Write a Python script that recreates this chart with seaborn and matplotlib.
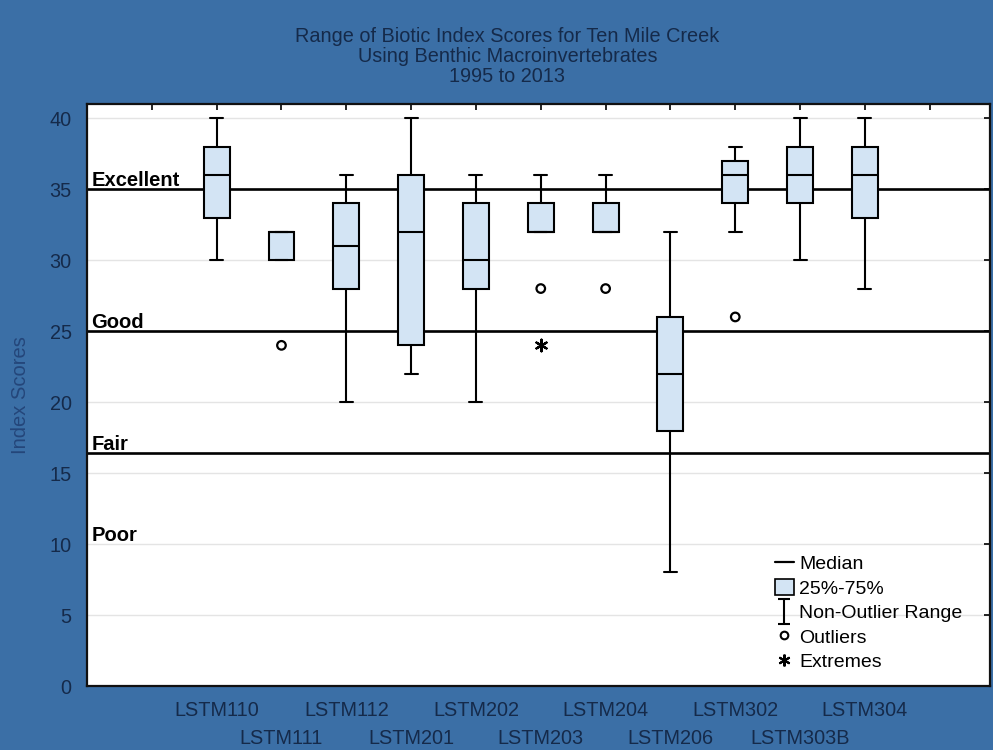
import matplotlib
matplotlib.use("Agg")
import matplotlib.pyplot as plt
import seaborn as sns
from matplotlib.lines import Line2D
from matplotlib.patches import Patch
from matplotlib.path import Path

# Sampling stations along Ten Mile Creek
stations = ["LSTM110", "LSTM111", "LSTM112", "LSTM201", "LSTM202", "LSTM203",
            "LSTM204", "LSTM206", "LSTM302", "LSTM303B", "LSTM304"]

# Box-and-whisker summary of biotic index scores per station
whisker_low = [30, 30, 20, 22, 20, 32, 32, 8, 32, 30, 28]
q1 = [33, 30, 28, 24, 28, 32, 32, 18, 34, 34, 33]
median = [36, 32, 31, 32, 30, 32, 32, 22, 36, 36, 36]
q3 = [38, 32, 34, 36, 34, 34, 34, 26, 37, 38, 38]
whisker_high = [40, 32, 36, 40, 36, 36, 36, 32, 38, 40, 40]

# Points beyond the non-outlier range
outlier_station = ["LSTM111", "LSTM203", "LSTM204", "LSTM302"]
outlier_score = [24, 28, 28, 26]
extreme_station = ["LSTM203"]
extreme_score = [24]

# Water-quality rating bands (lower limit of each class)
band_names = ["Excellent", "Good", "Fair", "Poor"]
band_limits = [35, 25, 16.4, 10]
band_lines = [True, True, True, False]

yticks = [0, 5, 10, 15, 20, 25, 30, 35, 40]

BG = "#3b6fa6"
NAVY = "#152a4a"
BOX = "#d3e4f4"

sns.set_theme(style="white")
plt.rcParams["font.family"] = ["Liberation Sans", "DejaVu Sans"]

fig = plt.figure(figsize=(9.93, 7.5), dpi=100, facecolor=BG)
ax = fig.add_axes([0.0876, 0.0853, 0.9094, 0.776])
ax.set_facecolor("white")

positions = list(range(len(stations)))
stats = [dict(med=m, q1=a, q3=b, whislo=lo, whishi=hi, fliers=[])
         for m, a, b, lo, hi in zip(median, q1, q3, whisker_low, whisker_high)]
ax.bxp(stats, positions=positions, widths=0.4, capwidths=0.2,
       patch_artist=True, showfliers=False, manage_ticks=False,
       boxprops=dict(facecolor=BOX, edgecolor="black", linewidth=1.5),
       medianprops=dict(color="black", linewidth=1.5),
       whiskerprops=dict(color="black", linewidth=1.5),
       capprops=dict(color="black", linewidth=1.5), zorder=3)

pos_of = {s: i for i, s in enumerate(stations)}
sns.scatterplot(x=[pos_of[s] for s in outlier_station], y=outlier_score, ax=ax,
                marker="o", s=38, color="black", facecolor="none",
                edgecolor="black", linewidth=1.6, zorder=4)
sns.scatterplot(x=[pos_of[s] for s in extreme_station], y=extreme_score, ax=ax,
                marker=(6, 2, 0), s=70, color="black", linewidth=1.6, zorder=4)

# Rating thresholds with their class names
for name, lim, draw in zip(band_names, band_limits, band_lines):
    if draw:
        ax.axhline(lim, color="black", linewidth=1.9, zorder=2)
    ax.text(-1.93, lim + 0.2, name, fontsize=14.5, fontweight="bold",
            color="black", ha="left", va="baseline", zorder=5)

ax.set_xlim(-2, 11.93)
ax.set_ylim(0, 41)
ax.set_yticks(yticks)
ax.yaxis.grid(True, color="#e4e4e4", linewidth=1.0, zorder=0)
ax.set_axisbelow(True)

# Station names alternate between two rows: even stations on the major
# ticks, odd stations on the minor ticks further down.
even_pos = [-1] + positions[0::2] + [11]
odd_pos = positions[1::2]
ax.set_xticks(even_pos)
ax.set_xticklabels([""] + stations[0::2] + [""])
ax.set_xticks(odd_pos, minor=True)
ax.set_xticklabels(stations[1::2], minor=True)
ax.tick_params(axis="x", which="major", direction="in", length=4, width=1.2,
               top=True, labelsize=14.3, labelcolor=NAVY, pad=11,
               color="black")
ax.tick_params(axis="x", which="minor", direction="in", length=4, width=1.2,
               top=True, labelsize=14.3, labelcolor=NAVY, pad=31,
               color="black")
ax.tick_params(axis="y", which="major", direction="in", length=4, width=1.2,
               right=True, labelsize=14.3, labelcolor=NAVY, pad=11,
               color="black")

for sp in ax.spines.values():
    sp.set_color("#111111")
    sp.set_linewidth(1.6)

ax.set_ylabel("Index Scores", fontsize=14.5, color="#24467a", labelpad=14)
ax.set_xlabel("")

fig.text(0.511, 0.925,
         "Range of Biotic Index Scores for Ten Mile Creek\n"
         "Using Benthic Macroinvertebrates\n1995 to 2013",
         ha="center", va="center", fontsize=14.3, color=NAVY, linespacing=1.07)

# Legend describing the box elements
ibar = Path([(-0.5, 1), (0.5, 1), (0, 1), (0, -1), (-0.5, -1), (0.5, -1)],
            [Path.MOVETO, Path.LINETO, Path.MOVETO, Path.LINETO,
             Path.MOVETO, Path.LINETO])
handles = [
    Line2D([], [], color="black", linewidth=1.6),
    Patch(facecolor=BOX, edgecolor="black", linewidth=1.2),
    Line2D([], [], marker=ibar, linestyle="none", color="black",
           markersize=18, markeredgewidth=1.5),
    Line2D([], [], marker="o", linestyle="none", markerfacecolor="none",
           markeredgecolor="black", markersize=5.5, markeredgewidth=1.5),
    Line2D([], [], marker=(6, 2, 0), linestyle="none", color="black",
           markersize=8.5, markeredgewidth=1.5),
]
labels = ["Median", "25%-75%", "Non-Outlier Range", "Outliers", "Extremes"]
ax.legend(handles, labels, loc="upper left", bbox_to_anchor=(0.762, 0.226),
          frameon=False, fontsize=14, handlelength=0.95, handleheight=0.9,
          handletextpad=0.3, labelspacing=0.29, borderpad=0, borderaxespad=0,
          labelcolor="black")

fig.savefig("out.png", dpi=100, facecolor=BG)
